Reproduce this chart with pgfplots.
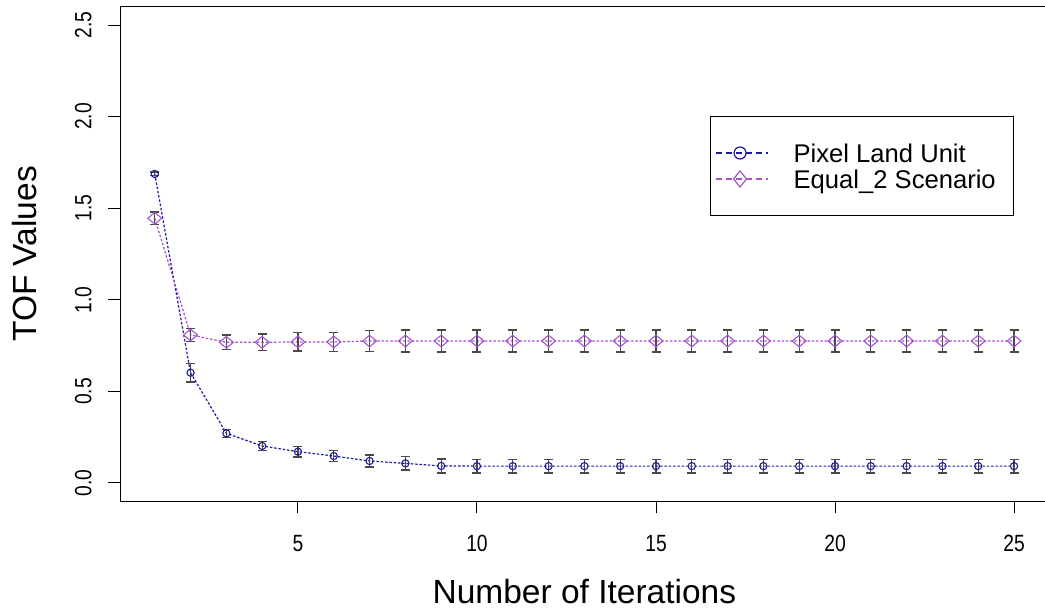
\documentclass[border=0pt]{standalone}
\usepackage{pgfplots}
\usepackage{pgfplotstable}
\pgfplotsset{compat=1.18}
\usepackage{fontspec}
\setmainfont{Liberation Sans}
\newfontfamily\tickfont[FakeStretch=0.82]{Liberation Sans}

\definecolor{pixblue}{HTML}{1C1C9C}
\definecolor{eqpurple}{HTML}{A652CC}
\definecolor{barcol}{HTML}{4A4A4A}

% mean TOF per iteration with half-width of the error bar
\pgfplotstableread{
x  y      err
1  1.687  0.010
2  0.602  0.051
3  0.271  0.022
4  0.202  0.025
5  0.171  0.029
6  0.147  0.031
7  0.120  0.033
8  0.107  0.036
9  0.093  0.038
10 0.092  0.038
11 0.092  0.038
12 0.092  0.038
13 0.092  0.038
14 0.092  0.038
15 0.092  0.038
16 0.092  0.038
17 0.092  0.038
18 0.092  0.038
19 0.092  0.038
20 0.092  0.038
21 0.092  0.038
22 0.092  0.038
23 0.092  0.038
24 0.092  0.038
25 0.092  0.038
}\pixeltable

\pgfplotstableread{
x  y      err
1  1.445  0.034
2  0.808  0.036
3  0.768  0.039
4  0.768  0.045
5  0.770  0.050
6  0.770  0.052
7  0.775  0.058
8  0.775  0.060
9  0.775  0.060
10 0.775  0.060
11 0.775  0.060
12 0.775  0.060
13 0.775  0.060
14 0.775  0.060
15 0.775  0.060
16 0.775  0.060
17 0.775  0.060
18 0.775  0.060
19 0.775  0.060
20 0.775  0.060
21 0.775  0.060
22 0.775  0.060
23 0.775  0.060
24 0.775  0.060
25 0.775  0.060
}\equaltable

\begin{document}
\begin{tikzpicture}
\begin{axis}[
  scale only axis,
  width=928pt, height=494.6pt,
  at={(0pt,0pt)}, anchor=south west,
  xmin=0.04, xmax=25.96, ymin=-0.1, ymax=2.6,
  axis line style={line width=1pt, black},
  xtick={5,10,15,20,25},
  xticklabels={5,10,15,20,25},
  ytick={0,0.5,1,1.5,2,2.5},
  yticklabels={0.0,0.5,1.0,1.5,2.0,2.5},
  xtick pos=bottom, ytick pos=left,
  tick align=outside, major tick length=12pt,
  tick style={black, line width=1pt},
  xticklabel style={font=\tickfont\fontsize{23.5}{24}\selectfont, anchor=base, inner sep=0pt, yshift=-38pt},
  yticklabel style={font=\tickfont\fontsize{23.5}{24}\selectfont, rotate=90, anchor=base, inner sep=0pt, yshift=17pt},
  xlabel={Number of Iterations},
  ylabel={TOF Values},
  xlabel style={font=\fontsize{33.5}{34}\selectfont, at={(axis description cs:0.5,-0.2076)}, anchor=base, inner sep=0pt},
  ylabel style={font=\fontsize{33.5}{34}\selectfont, at={(axis description cs:-0.0899,0.5)}, rotate=0, anchor=base, inner sep=0pt},
  legend style={at={(axis description cs:0.6353,0.779)}, anchor=north west,
    draw=black, line width=1pt, inner xsep=5pt, inner ysep=23.5pt,
    row sep=0pt, column sep=25pt,
    font=\fontsize{25.6}{26}\selectfont,
    nodes={inner sep=0pt, text height=22.5pt, text depth=3.5pt, anchor=west}},
  legend cell align=left,
]

\addplot[pixblue, line width=1.2pt, dash pattern=on 2.5pt off 1.8pt,
  mark=o, mark size=3.6pt, mark options={solid, line width=1.1pt},
  legend image code/.code={
    \draw[pixblue, line width=1.2pt, dash pattern=on 6pt off 4pt] (0pt,0pt) -- (52pt,0pt);
    \draw[pixblue, line width=1.2pt, solid] (24pt,0pt) circle (6pt);
  },
  error bars/.cd, y dir=both, y explicit,
  error bar style={barcol, line width=1.3pt, solid},
  error mark options={barcol, line width=1.3pt, mark size=4.5pt, solid, rotate=90}]
  table[x=x, y=y, y error=err] {\pixeltable};
\addlegendentry{\makebox[215pt][l]{Pixel Land Unit}}

\addplot[eqpurple, line width=1.2pt, dash pattern=on 2.5pt off 1.8pt,
  mark=diamond, mark size=5.8pt, mark options={solid, line width=1.1pt, xscale=1.6},
  legend image code/.code={
    \draw[eqpurple, line width=1.2pt, dash pattern=on 6pt off 4pt] (0pt,0pt) -- (52pt,0pt);
    \draw[eqpurple, line width=1.2pt, solid] (24pt,8pt) -- (30.5pt,0pt) -- (24pt,-8pt) -- (17.5pt,0pt) -- cycle;
  },
  error bars/.cd, y dir=both, y explicit,
  error bar style={barcol, line width=1.3pt, solid},
  error mark options={barcol, line width=1.3pt, mark size=4.5pt, solid, rotate=90}]
  table[x=x, y=y, y error=err] {\equaltable};
\addlegendentry{\makebox[215pt][l]{Equal\_2 Scenario}}

\end{axis}
\pgfresetboundingbox
\path[use as bounding box] (-120.4pt,-113.7pt) rectangle (924.6pt,501.3pt);
\end{tikzpicture}
\end{document}
